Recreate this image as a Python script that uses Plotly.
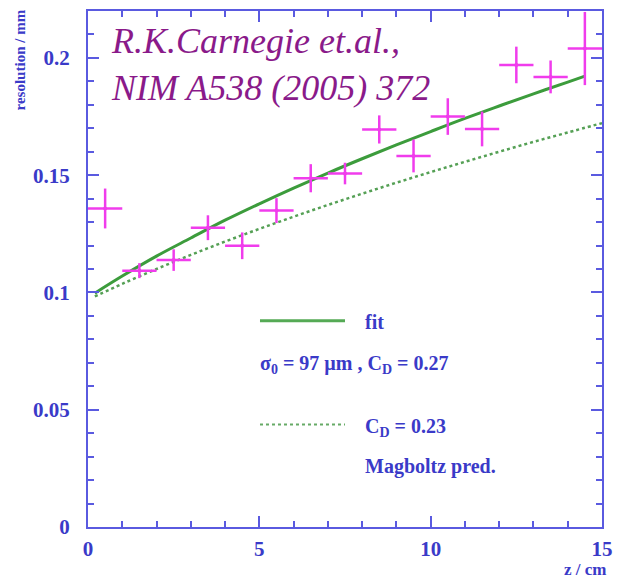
import plotly.graph_objects as go

# measured points
z_data = [0.5, 1.5, 2.5, 3.5, 4.5, 5.5, 6.5, 7.5, 8.5, 9.5, 10.5, 11.5, 12.5, 13.5, 14.5]
res_data = [0.1358, 0.1093, 0.1138, 0.1276, 0.1199, 0.1349, 0.1487, 0.1507, 0.1695, 0.1582,
            0.1750, 0.1697, 0.1970, 0.1919, 0.2040]
res_err = [0.0085, 0.0032, 0.0046, 0.0053, 0.0057, 0.0053, 0.0060, 0.0046, 0.0060, 0.0070,
           0.0078, 0.0074, 0.0078, 0.0070, 0.0156]
z_err = [0.5] * 15

# fit curve
z_fit = [0.2, 1, 2, 3, 4, 5, 6, 7, 8, 9, 10, 11, 12, 13, 14, 14.5]
res_fit = [0.0997, 0.1070, 0.1155, 0.1232, 0.1308, 0.1378, 0.1445, 0.1509, 0.1570, 0.1629,
           0.1686, 0.1742, 0.1795, 0.1847, 0.1897, 0.1922]

# Magboltz prediction
z_mag = [0.2, 1, 2, 3, 4, 5, 6, 7, 8, 9, 10, 11, 12, 13, 14, 15]
res_mag = [0.0983, 0.1037, 0.1100, 0.1160, 0.1217, 0.1271, 0.1323, 0.1373, 0.1421, 0.1468,
           0.1513, 0.1557, 0.1600, 0.1642, 0.1682, 0.1722]

x_ticks = [0, 5, 10, 15]
y_ticks = [0, 0.05, 0.1, 0.15, 0.2]

AX = "#5a5ae0"
TXT = "#3a3ac8"
GREEN = "#3c9c3c"
MAG = "#f03cec"
SERIF = "Liberation Serif"

fig = go.Figure()
fig.add_trace(go.Scatter(x=z_mag, y=res_mag, mode="lines", line=dict(color="#55a055", width=2.5, dash="3px,3px"),
                         line_shape="spline", showlegend=False))
fig.add_trace(go.Scatter(x=z_fit, y=res_fit, mode="lines", line=dict(color=GREEN, width=3),
                         line_shape="spline", showlegend=False))
fig.add_trace(go.Scatter(
    x=z_data, y=res_data, mode="markers",
    marker=dict(size=4, color=MAG),
    error_x=dict(type="data", array=z_err, color=MAG, thickness=2.5, width=0),
    error_y=dict(type="data", array=res_err, color=MAG, thickness=2.5, width=0),
    showlegend=False, cliponaxis=True))

axis_common = dict(
    showline=True, linecolor=AX, linewidth=2, mirror="allticks",
    ticks="inside", ticklen=11, tickwidth=1.5, tickcolor=AX,
    showgrid=False, zeroline=False,
    tickfont=dict(family=SERIF, size=21, color=TXT, weight="bold"),
)
fig.update_xaxes(range=[0, 15], tickvals=x_ticks, ticklabelstandoff=2,
                 minor=dict(dtick=1, ticks="inside", ticklen=6, tickcolor=AX, tickwidth=1.5),
                 **axis_common)
fig.update_yaxes(range=[0, 0.22], tickvals=y_ticks, ticklabelstandoff=12,
                 minor=dict(dtick=0.01, ticks="inside", ticklen=6, tickcolor=AX, tickwidth=1.5),
                 **axis_common)

def px_x(p):
    return (p - 88) / 520.0

def px_y(p):
    return (527 - p) / 518.0

lab_font = dict(family=SERIF, size=20, color=TXT, weight="bold")
ann = [
    dict(text="<i>R.K.Carnegie et.al.,<br>NIM A538 (2005) 372</i>", x=px_x(109), y=px_y(17),
         xanchor="left", yanchor="top", align="left",
         font=dict(family=SERIF, size=36, color="#8a1a8a")),
    dict(text="resolution / mm", textangle=-90, x=px_x(9), y=px_y(5), xanchor="left", yanchor="top",
         font=dict(family=SERIF, size=15, color=TXT, weight="bold")),
    dict(text="z / cm", x=px_x(614), y=px_y(558), xanchor="right", yanchor="top",
         font=dict(family=SERIF, size=17, color=TXT, weight="bold")),
    dict(text="fit", x=px_x(366), y=px_y(321), xanchor="left", yanchor="middle", font=lab_font),
    dict(text="σ<sub>0</sub> = 97 µm , C<sub>D</sub> = 0.27", x=px_x(260), y=px_y(364),
         xanchor="left", yanchor="middle", font=lab_font),
    dict(text="C<sub>D</sub> = 0.23", x=px_x(366), y=px_y(427), xanchor="left", yanchor="middle", font=lab_font),
    dict(text="Magboltz pred.", x=px_x(366), y=px_y(466), xanchor="left", yanchor="middle", font=lab_font),
]
for a in ann:
    a.update(xref="paper", yref="paper", showarrow=False)

shapes = [
    dict(type="line", xref="paper", yref="paper", x0=px_x(262), x1=px_x(348), y0=px_y(320), y1=px_y(320),
         line=dict(color="#55aa55", width=3)),
    dict(type="line", xref="paper", yref="paper", x0=px_x(262), x1=px_x(348), y0=px_y(424), y1=px_y(424),
         line=dict(color="#66aa66", width=2, dash="3px,3px")),
]

fig.update_layout(
    width=622, height=582,
    margin=dict(l=88, r=14, t=9, b=55),
    paper_bgcolor="white", plot_bgcolor="white",
    annotations=ann, shapes=shapes, showlegend=False,
)

fig.write_html("out.html")
